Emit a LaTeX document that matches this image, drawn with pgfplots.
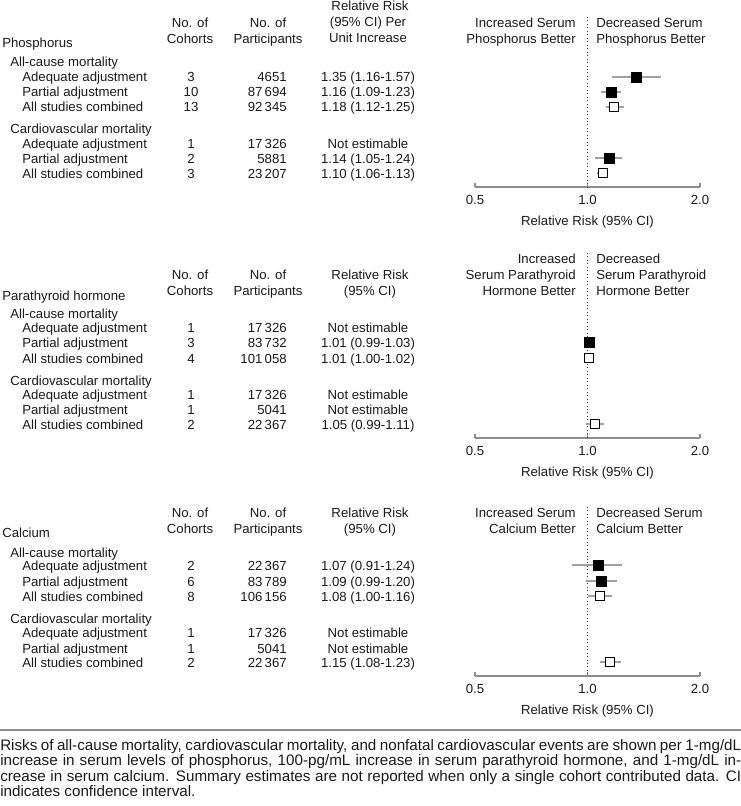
\documentclass[border=0pt]{standalone}
\usepackage{fontspec}
\setmainfont{Liberation Sans}
\usepackage{pgfplots}
\pgfplotsset{compat=1.18}

\definecolor{txt}{HTML}{1A1A1A}
\definecolor{axgray}{HTML}{8C8C8C}
\definecolor{cigray}{HTML}{A0A0A0}
\newcommand{\tf}{\fontsize{9.9}{12}\selectfont}

% one row of the table: y (px), label, cohorts, participants, RR
\newcommand{\tabrow}[5]{%
  \node[anchor=base west] at (22,#1+5) {#2};
  \node[anchor=base] at (191,#1+5) {#3};
  \node[anchor=base east] at (287,#1+5) {#4};
  \node[anchor=base] at (368,#1+5) {#5};}

\pgfplotsset{
  every axis/.append style={
    scale only axis, width=168.75pt,
    xmin=0.5, xmax=2,
    axis x line*=bottom, axis y line=none,
    axis line style={axgray, line width=0.9pt, -},
    xtick={0.5,1,2}, xticklabels={0.5,1.0,2.0},
    tick align=inside, major tick length=3pt,
    xtick style={axgray, line width=0.9pt},
    xticklabel style={font=\tf, text=txt, yshift=-3pt},
    xlabel={Relative Risk (95\% CI)},
    xlabel style={font=\tf, text=txt, at={(axis description cs:0.5,0)}, anchor=center, yshift=-26.5pt},
    clip=false, unbounded coords=jump,
  },
  refline/.style={black!80, dotted, line width=0.6pt},
  cibar/.style={cigray, line width=1pt},
  adjmark/.style={only marks, mark=square*, mark size=3.75pt, black},
  combmark/.style={only marks, mark=square*, mark size=3.4pt, mark options={draw=black, fill=white, line width=0.8pt}},
}

\begin{document}
\begin{tikzpicture}
\begin{scope}[x=0.75pt, y=-0.75pt, every node/.style={font=\tf, text=txt, inner sep=0pt}]
\useasboundingbox (0,0) rectangle (741,806);
\coordinate (p1) at (475,187);
\coordinate (p2) at (475,438);
\coordinate (p3) at (475,676);

% ---- Phosphorus
\node[anchor=base] at (190,28) {No. of};
\node[anchor=base] at (190,44) {Cohorts};
\node[anchor=base] at (268,28) {No. of};
\node[anchor=base] at (268,44) {Participants};
\node[anchor=base] at (370,11) {Relative Risk};
\node[anchor=base] at (368,27) {(95\% CI) Per};
\node[anchor=base] at (368,43) {Unit Increase};
\node[anchor=base east] at (576,28) {Increased Serum};
\node[anchor=base east] at (576,44) {Phosphorus Better};
\node[anchor=base west] at (596,28) {Decreased Serum};
\node[anchor=base west] at (596,44) {Phosphorus Better};
\node[anchor=base west] at (2,48) {Phosphorus};
\node[anchor=base west] at (10,67) {All-cause mortality};
\tabrow{77}{Adequate adjustment}{3}{4651}{1.35 (1.16-1.57)}
\tabrow{92}{Partial adjustment}{10}{87\,694}{1.16 (1.09-1.23)}
\tabrow{107}{All studies combined}{13}{92\,345}{1.18 (1.12-1.25)}
\node[anchor=base west] at (10,134) {Cardiovascular mortality};
\tabrow{144}{Adequate adjustment}{1}{17\,326}{Not estimable}
\tabrow{158}{Partial adjustment}{2}{5881}{1.14 (1.05-1.24)}
\tabrow{173}{All studies combined}{3}{23\,207}{1.10 (1.06-1.13)}

% ---- Parathyroid hormone
\node[anchor=base] at (190,279) {No. of};
\node[anchor=base] at (190,295) {Cohorts};
\node[anchor=base] at (268,279) {No. of};
\node[anchor=base] at (268,295) {Participants};
\node[anchor=base] at (370,279) {Relative Risk};
\node[anchor=base] at (370,295) {(95\% CI)};
\node[anchor=base east] at (576,263) {Increased};
\node[anchor=base east] at (576,279) {Serum Parathyroid};
\node[anchor=base east] at (576,295) {Hormone Better};
\node[anchor=base west] at (596,263) {Decreased};
\node[anchor=base west] at (596,279) {Serum Parathyroid};
\node[anchor=base west] at (596,295) {Hormone Better};
\node[anchor=base west] at (2,300) {Parathyroid hormone};
\node[anchor=base west] at (10,318) {All-cause mortality};
\tabrow{327}{Adequate adjustment}{1}{17\,326}{Not estimable}
\tabrow{342}{Partial adjustment}{3}{83\,732}{1.01 (0.99-1.03)}
\tabrow{358}{All studies combined}{4}{101\,058}{1.01 (1.00-1.02)}
\node[anchor=base west] at (10,385) {Cardiovascular mortality};
\tabrow{394}{Adequate adjustment}{1}{17\,326}{Not estimable}
\tabrow{409}{Partial adjustment}{1}{5041}{Not estimable}
\tabrow{424}{All studies combined}{2}{22\,367}{1.05 (0.99-1.11)}

% ---- Calcium
\node[anchor=base] at (190,517) {No. of};
\node[anchor=base] at (190,533) {Cohorts};
\node[anchor=base] at (268,517) {No. of};
\node[anchor=base] at (268,533) {Participants};
\node[anchor=base] at (370,517) {Relative Risk};
\node[anchor=base] at (370,533) {(95\% CI)};
\node[anchor=base east] at (576,517) {Increased Serum};
\node[anchor=base east] at (576,533) {Calcium Better};
\node[anchor=base west] at (596,517) {Decreased Serum};
\node[anchor=base west] at (596,533) {Calcium Better};
\node[anchor=base west] at (2,537) {Calcium};
\node[anchor=base west] at (10,557) {All-cause mortality};
\tabrow{565}{Adequate adjustment}{2}{22\,367}{1.07 (0.91-1.24)}
\tabrow{581}{Partial adjustment}{6}{83\,789}{1.09 (0.99-1.20)}
\tabrow{596}{All studies combined}{8}{106\,156}{1.08 (1.00-1.16)}
\node[anchor=base west] at (10,623) {Cardiovascular mortality};
\tabrow{632}{Adequate adjustment}{1}{17\,326}{Not estimable}
\tabrow{648}{Partial adjustment}{1}{5041}{Not estimable}
\tabrow{662}{All studies combined}{2}{22\,367}{1.15 (1.08-1.23)}

% ---- rule and note
\draw[axgray, line width=1.6pt] (0,730) -- (741,730);
\node[anchor=north west, text width=555.75pt, align=justify, font=\fontsize{11.4}{10.4}\selectfont] at (0,739) {%
Risks of all-cause mortality, cardiovascular mortality, and nonfatal cardiovascular events are shown per 1-mg/dL\linebreak
increase in serum levels of phosphorus, 100-pg/mL increase in serum parathyroid hormone, and 1-mg/dL in-\linebreak
crease in serum calcium. Summary estimates are not reported when only a single cohort contributed data. CI\linebreak
indicates confidence interval.};
\end{scope}

% ---- forest panels
\begin{semilogxaxis}[at={(p1)}, anchor=south west, height=127.5pt, ymin=-187, ymax=-17]
\addplot[refline] coordinates {(1,-17) (1,-187)};
\addplot[cibar] coordinates {(1.16,-77) (1.57,-77) (nan,nan) (1.09,-92) (1.23,-92) (nan,nan)
  (1.12,-107) (1.25,-107) (nan,nan) (1.05,-158) (1.24,-158) (nan,nan) (1.06,-173) (1.13,-173)};
\addplot[adjmark] coordinates {(1.35,-77) (1.16,-92) (1.14,-158)};
\addplot[combmark] coordinates {(1.18,-107) (1.10,-173)};
\end{semilogxaxis}

\begin{semilogxaxis}[at={(p2)}, anchor=south west, height=138.75pt, ymin=-438, ymax=-253]
\addplot[refline] coordinates {(1,-253) (1,-438)};
\addplot[cibar] coordinates {(0.99,-342) (1.03,-342) (nan,nan) (1.00,-358) (1.02,-358) (nan,nan)
  (0.99,-424) (1.11,-424)};
\addplot[adjmark] coordinates {(1.01,-342)};
\addplot[combmark] coordinates {(1.01,-358) (1.05,-424)};
\end{semilogxaxis}

\begin{semilogxaxis}[at={(p3)}, anchor=south west, height=126.75pt, ymin=-676, ymax=-507]
\addplot[refline] coordinates {(1,-507) (1,-676)};
\addplot[cibar] coordinates {(0.91,-565) (1.24,-565) (nan,nan) (0.99,-581) (1.20,-581) (nan,nan)
  (1.00,-596) (1.16,-596) (nan,nan) (1.08,-662) (1.23,-662)};
\addplot[adjmark] coordinates {(1.07,-565) (1.09,-581)};
\addplot[combmark] coordinates {(1.08,-596) (1.15,-662)};
\end{semilogxaxis}
\end{tikzpicture}
\end{document}
